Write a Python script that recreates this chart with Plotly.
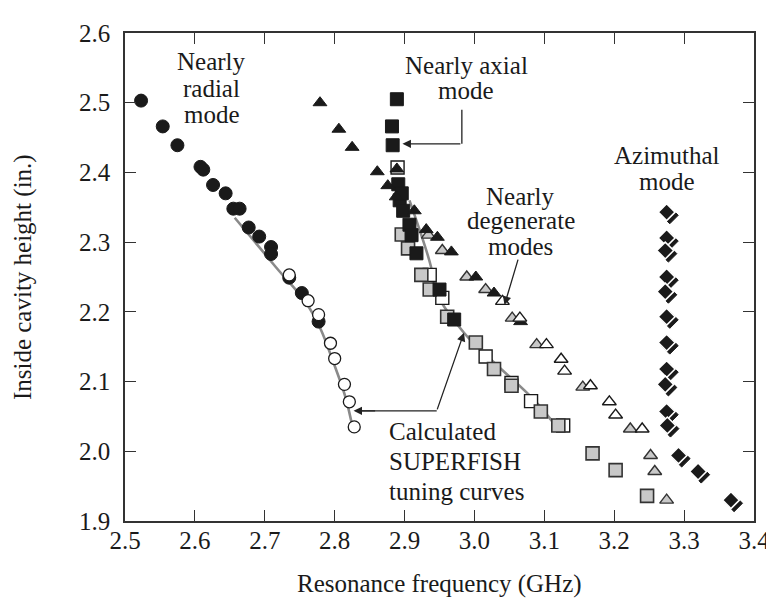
import plotly.graph_objects as go

# ---------------- data (GHz, inches) ----------------
radial_meas_f = [2.523, 2.554, 2.575, 2.608, 2.612, 2.626, 2.644, 2.655, 2.664, 2.677, 2.692, 2.709, 2.709, 2.735, 2.753, 2.777]
radial_meas_h = [2.503, 2.466, 2.439, 2.408, 2.404, 2.382, 2.370, 2.348, 2.348, 2.321, 2.308, 2.293, 2.283, 2.249, 2.227, 2.186]
radial_open_f = [2.735, 2.762, 2.777, 2.794, 2.800, 2.814, 2.821, 2.828]
radial_open_h = [2.253, 2.216, 2.196, 2.155, 2.133, 2.096, 2.071, 2.035]

tri_black_f = [2.779, 2.806, 2.825, 2.861, 2.889, 2.876, 2.888, 2.914, 2.931, 2.947, 2.967, 3.002, 3.028, 3.066]
tri_black_h = [2.500, 2.462, 2.436, 2.401, 2.405, 2.381, 2.365, 2.345, 2.318, 2.307, 2.286, 2.250, 2.227, 2.186]
tri_grey_f = [2.934, 2.954, 2.989, 3.016, 3.054, 3.089, 3.155, 3.223, 3.252, 3.258, 3.275]
tri_grey_h = [2.310, 2.288, 2.250, 2.232, 2.191, 2.153, 2.092, 2.032, 1.994, 1.971, 1.930]
tri_white_f = [3.040, 3.065, 3.103, 3.124, 3.129, 3.166, 3.193, 3.202, 3.240]
tri_white_h = [2.215, 2.191, 2.153, 2.132, 2.115, 2.094, 2.071, 2.052, 2.032]

sq_black_f = [2.889, 2.882, 2.883, 2.891, 2.893, 2.896, 2.898, 2.907, 2.910, 2.917, 2.950, 2.971]
sq_black_h = [2.505, 2.466, 2.439, 2.383, 2.360, 2.370, 2.345, 2.325, 2.310, 2.284, 2.232, 2.189]
sq_grey_f = [2.896, 2.905, 2.924, 2.936, 2.961, 3.002, 3.028, 3.053, 3.095, 3.120, 3.169, 3.202, 3.247]
sq_grey_h = [2.311, 2.291, 2.253, 2.232, 2.193, 2.156, 2.118, 2.094, 2.057, 2.037, 1.997, 1.973, 1.936]
sq_white_f = [2.890, 2.936, 2.954, 3.016, 3.053, 3.081, 3.127]
sq_white_h = [2.407, 2.253, 2.220, 2.136, 2.098, 2.072, 2.037]

azim_f = [3.275, 3.275, 3.273, 3.275, 3.273, 3.275, 3.275, 3.275, 3.273, 3.275, 3.276, 3.292, 3.320, 3.367]
azim_h = [2.343, 2.306, 2.288, 2.250, 2.229, 2.193, 2.156, 2.118, 2.096, 2.057, 2.037, 1.994, 1.971, 1.930]

# SUPERFISH calculated tuning curves
curve_radial_f = [2.657, 2.716, 2.759, 2.780, 2.798, 2.815, 2.827]
curve_radial_h = [2.335, 2.264, 2.213, 2.175, 2.128, 2.079, 2.028]
curve_axial_f = [2.907, 2.938, 2.943, 2.985, 3.023, 3.084, 3.120]
curve_axial_h = [2.360, 2.264, 2.232, 2.170, 2.132, 2.075, 2.032]

x_ticks = [2.5, 2.6, 2.7, 2.8, 2.9, 3.0, 3.1, 3.2, 3.3, 3.4]
y_ticks = [1.9, 2.0, 2.1, 2.2, 2.3, 2.4, 2.5, 2.6]

# ---------------- figure ----------------
GREY_FILL = "#c8c8c8"
INK = "#1a1a1a"
FONT = "Liberation Serif"

fig = go.Figure()

# grey calculated curves
for cf, ch in [(curve_radial_f, curve_radial_h), (curve_axial_f, curve_axial_h)]:
    fig.add_trace(go.Scatter(x=cf, y=ch, mode="lines", line=dict(color="#8a8a8a", width=2.6, shape="spline"),
                             hoverinfo="skip"))

def pts(xs, ys, symbol, fill, line_color, size, lw=1.4):
    fig.add_trace(go.Scatter(x=xs, y=ys, mode="markers",
                             marker=dict(symbol=symbol, size=size, color=fill,
                                         line=dict(color=line_color, width=lw))))

# circles
pts(radial_meas_f, radial_meas_h, "circle", INK, INK, 13, 1)
pts(radial_open_f, radial_open_h, "circle", "white", INK, 12, 1.3)
# squares
pts(sq_white_f, sq_white_h, "square", "white", INK, 13, 1.4)
pts(sq_grey_f, sq_grey_h, "square", GREY_FILL, "#333333", 13, 1.6)
pts(sq_black_f, sq_black_h, "square", INK, INK, 13, 1)
# triangles
pts(tri_grey_f, tri_grey_h, "triangle-up", GREY_FILL, "#333333", 12, 1.4)
pts(tri_black_f, tri_black_h, "triangle-up", INK, INK, 12, 1)
pts(tri_white_f, tri_white_h, "triangle-up", "white", INK, 12, 1.4)
# azimuthal diamonds (shadowed)
shadow = 0.0045
fig.add_trace(go.Scatter(x=[f + shadow for f in azim_f], y=[h - shadow for h in azim_h], mode="markers",
                         marker=dict(symbol="diamond", size=13, color=INK, line=dict(color=INK, width=1))))
fig.add_trace(go.Scatter(x=azim_f, y=azim_h, mode="markers",
                         marker=dict(symbol="diamond", size=13, color=INK, line=dict(color="white", width=1.6))))

# ---------------- text labels ----------------
def label(x, y, text, xanchor="center"):
    fig.add_annotation(x=x, y=y, xref="x", yref="y", text=text, showarrow=False,
                       xanchor=xanchor, yanchor="middle", font=dict(family=FONT, size=25, color=INK))

label(2.624, 2.559, "Nearly"); label(2.624, 2.521, "radial"); label(2.624, 2.483, "mode")
label(2.988, 2.554, "Nearly axial"); label(2.988, 2.518, "mode")
label(3.066, 2.365, "Nearly"); label(3.066, 2.331, "degenerate"); label(3.066, 2.294, "modes")
label(3.275, 2.424, "Azimuthal"); label(3.275, 2.387, "mode")
label(2.875, 2.029, "Calculated", "left"); label(2.875, 1.986, "SUPERFISH", "left"); label(2.875, 1.943, "tuning curves", "left")

# ---------------- arrows / leader lines ----------------
LC = "#222222"
fig.add_shape(type="line", xref="x", yref="y", x0=2.982, y0=2.490, x1=2.982, y1=2.441, line=dict(color=LC, width=1.3))
fig.add_shape(type="line", xref="x", yref="y", x0=2.837, y0=2.058, x1=2.946, y1=2.058, line=dict(color=LC, width=1.3))

def arrow(x_tip, y_tip, x_tail, y_tail):
    fig.add_annotation(x=x_tip, y=y_tip, ax=x_tail, ay=y_tail, xref="x", yref="y", axref="x", ayref="y",
                       text="", showarrow=True, arrowhead=2, arrowsize=1.3, arrowwidth=1.3, arrowcolor=LC)

arrow(2.897, 2.441, 2.982, 2.441)      # nearly axial
arrow(3.043, 2.210, 3.063, 2.277)      # nearly degenerate
arrow(2.827, 2.058, 2.860, 2.058)      # to radial curve
arrow(2.985, 2.170, 2.946, 2.058)      # to axial curve

# axis titles
fig.add_annotation(x=0.5, y=-0.13, xref="paper", yref="paper", text="Resonance frequency (GHz)", showarrow=False,
                   xanchor="center", yanchor="middle", font=dict(family=FONT, size=25, color=INK))
fig.add_annotation(x=-0.162, y=0.5, xref="paper", yref="paper", text="Inside cavity height (in.)", showarrow=False,
                   textangle=-90, xanchor="center", yanchor="middle", font=dict(family=FONT, size=25, color=INK))
fig.add_annotation(x=-0.167, y=-0.165, xref="paper", yref="paper", text="E8322", showarrow=False,
                   xanchor="left", yanchor="top", font=dict(family=FONT, size=14, color=INK))

axis_common = dict(showline=True, mirror="ticks", linecolor="#333333", linewidth=1.5, ticks="inside",
                   ticklen=11, tickwidth=1.2, tickcolor="#333333", showgrid=False, zeroline=False,
                   tickfont=dict(family=FONT, size=25, color=INK))
fig.update_xaxes(range=[2.5, 3.4], tickvals=x_ticks, ticktext=[f"{v:.1f}" for v in x_ticks],
                 ticklabelstandoff=-4, **axis_common)
fig.update_yaxes(range=[1.9, 2.6], tickvals=y_ticks, ticktext=[f"{v:.1f}" for v in y_ticks],
                 ticklabelstandoff=8, **axis_common)

fig.update_layout(width=774, height=601, margin=dict(l=117, r=21, t=21, b=88),
                  paper_bgcolor="white", plot_bgcolor="white", showlegend=False)

fig.write_html("out.html")
